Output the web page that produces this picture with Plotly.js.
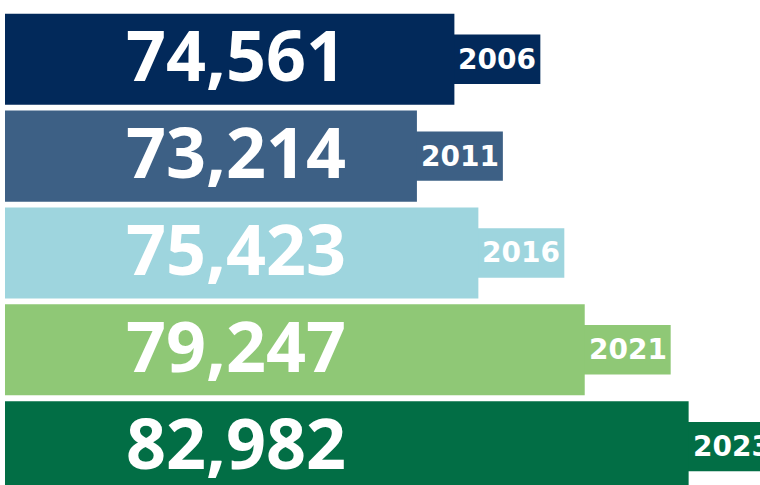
<!DOCTYPE html>
<html>
<head>
<meta charset="utf-8">
<script src="https://cdn.plot.ly/plotly-3.0.1.min.js"></script>
<style>html,body{margin:0;padding:0;background:#fff;overflow:hidden}#chart{width:760px;height:485px}</style>
</head>
<body>
<div id="chart"></div>
<script>
// Data
const years = ['2006', '2011', '2016', '2021', '2023'];
const values = [74561, 73214, 75423, 79247, 82982];
const valueLabels = ['74,561', '73,214', '75,423', '79,247', '82,982'];
const colors = ['#02295a', '#3d6085', '#9ed5de', '#8fc876', '#026e45'];

// Style constants
const TAB_EXT = 3090;      // tab extends beyond bar end (data units)
const X_RANGE = [58405, 85548];

const yIdx = years.map((_, i) => i);

const tabTrace = {
  type: 'bar', orientation: 'h',
  y: yIdx, x: values.map(v => v + TAB_EXT),
  width: 0.51,
  marker: {color: colors, line: {width: 0}},
  hoverinfo: 'skip', showlegend: false
};
const barTrace = {
  type: 'bar', orientation: 'h',
  y: yIdx, x: values,
  width: 0.94,
  marker: {color: colors, line: {width: 0}},
  hoverinfo: 'skip', showlegend: false
};

const annotations = [];
years.forEach((yr, i) => {
  annotations.push({
    xref: 'paper', yref: 'y', x: 0.3059, y: i,
    text: valueLabels[i], showarrow: false,
    xanchor: 'center', yanchor: 'middle', yshift: 5,
    font: {family: 'Open Sans, sans-serif', size: 70, color: '#ffffff', weight: 700}
  });
  annotations.push({
    xref: 'x', yref: 'y', x: values[i] + TAB_EXT / 2, y: i,
    text: yr, showarrow: false,
    xanchor: 'center', yanchor: 'middle',
    font: {family: 'DejaVu Sans, sans-serif', size: 28, color: '#ffffff', weight: 700}
  });
});

const layout = {
  width: 760, height: 485,
  margin: {l: 5, r: 0, t: 0, b: 0, pad: 0},
  paper_bgcolor: '#ffffff', plot_bgcolor: '#ffffff',
  barmode: 'overlay',
  xaxis: {range: X_RANGE, visible: false, showgrid: false, zeroline: false, fixedrange: true},
  yaxis: {range: [4.396, -0.612], visible: false, showgrid: false, zeroline: false, fixedrange: true},
  annotations: annotations,
  showlegend: false
};

Plotly.newPlot('chart', [tabTrace, barTrace], layout, {displayModeBar: false, staticPlot: true});
</script>
</body>
</html>
